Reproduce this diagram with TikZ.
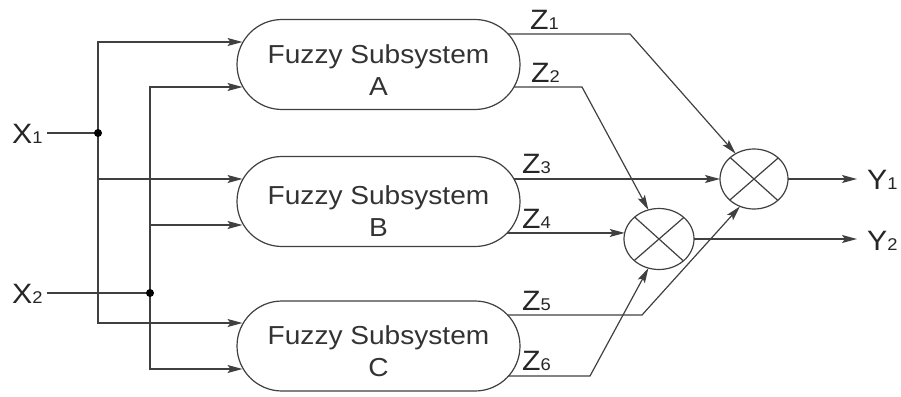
\documentclass[tikz,border=0pt]{standalone}
\usepackage{fontspec}
\setmainfont{Liberation Sans}[FakeStretch=1.08]
\usetikzlibrary{arrows.meta,shapes.misc,shapes.geometric,backgrounds}

\tikzset{
  wire/.style={draw=black!75, line width=1.2pt},
  arr/.style={wire, -{Stealth[length=15pt,width=8pt,inset=3pt]}},
  fuzzybox/.style={rounded rectangle, draw=black!75, line width=1.2pt, fill=white,
    minimum width=283pt, minimum height=90pt, inner sep=0pt, outer sep=0pt},
  boxtext/.style={align=center, font=\fontsize{26}{32}\selectfont, text=black!80, inner sep=0pt},
  mult/.style={ellipse, draw=black!75, line width=1.2pt, fill=white,
    minimum width=68pt, minimum height=60pt, inner sep=0pt, outer sep=0pt},
  sig/.style={font=\fontsize{28}{28}\selectfont, text=black!85, inner sep=0pt},
  junction/.style={circle, fill=black, minimum size=8pt, inner sep=0pt},
}
\newcommand\idx[1]{{\fontsize{17}{17}\selectfont #1}}

\begin{document}
\begin{tikzpicture}[x=1pt,y=-1pt]
\useasboundingbox (0,0) rectangle (901,396);

% fuzzy subsystems
\node[fuzzybox] (a) at (378.5,64.5) {};
\node[fuzzybox] (b) at (378.5,201.5) {};
\node[fuzzybox] (c) at (378.5,346) {};
\node[boxtext] (ta) at (378.5,70) {Fuzzy Subsystem\\A};
\node[boxtext] (tb) at (378.5,211) {Fuzzy Subsystem\\B};
\node[boxtext] (tc) at (378.5,351) {Fuzzy Subsystem\\C};

% multipliers
\node[mult] (m1) at (754,179) {};
\node[mult, minimum width=70pt, minimum height=61pt] (m2) at (659,239) {};
\foreach \m in {m1,m2}{
  \draw[wire] (\m.41.5) -- (\m.221.5);
  \draw[wire] (\m.138.5) -- (\m.318.5);
}

% inputs
\node[sig, anchor=base west] (x1) at (12,143) {X\idx{1}};
\node[sig, anchor=base west] (x2) at (12,303) {X\idx{2}};
\coordinate (j1) at (98,133);
\coordinate (j2) at (150,293);
\draw[wire] ([xshift=4pt]x1.east |- j1) -- (j1);
\draw[wire] ([xshift=4pt]x2.east |- j2) -- (j2);

\draw[arr] (j1) |- ([shift={(5.5,-22.5)}]a.west);
\draw[arr] (j1) |- ([shift={(5.5,-22.5)}]b.west);
\draw[arr] (j1) |- ([shift={(5.5,-23)}]c.west);
\draw[arr] (j2) |- ([shift={(5.5,22.5)}]a.west);
\draw[arr] (j2) |- ([shift={(5.5,23.5)}]b.west);
\draw[arr] (j2) |- ([shift={(5.5,23)}]c.west);

\node[junction] (dot1) at (j1) {};
\node[junction] (dot2) at (j2) {};

% outputs of the subsystems (start hidden under the boxes)
\coordinate (k1) at (630,34);
\coordinate (k2) at (582,87);
\coordinate (k5) at (642,315);
\coordinate (k6) at (590,376);
\begin{scope}[on background layer]
  \draw[arr] (a.center |- k1) -- (k1) -- (m1.126);
  \draw[arr] (a.center |- k2) -- (k2) -- (m2.110);
  \draw[arr] (b.center |- m1.west) -- (m1.west);
  \draw[arr] (b.center |- m2.170) -- (m2.170);
  \draw[arr] (c.center |- k5) -- (k5) -- (m1.243);
  \draw[arr] (c.center |- k6) -- (k6) -- (m2.250);
\end{scope}

\node[sig, anchor=base west] (z1) at (530,30) {Z\idx{1}};
\node[sig, anchor=base west] (z2) at (531,82) {Z\idx{2}};
\node[sig, anchor=base west] (z3) at (522,173) {Z\idx{3}};
\node[sig, anchor=base west] (z4) at (522,228) {Z\idx{4}};
\node[sig, anchor=base west] (z5) at (522,310) {Z\idx{5}};
\node[sig, anchor=base west] (z6) at (522,370) {Z\idx{6}};

% final outputs
\node[sig, anchor=base west] (y1) at (867,189) {Y\idx{1}};
\node[sig, anchor=base west] (y2) at (867,250) {Y\idx{2}};
\draw[arr] (m1.east) -- ([xshift=-10pt]y1.west |- m1.east);
\draw[arr] (m2.east) -- ([xshift=-10pt]y2.west |- m2.east);
\end{tikzpicture}
\end{document}
